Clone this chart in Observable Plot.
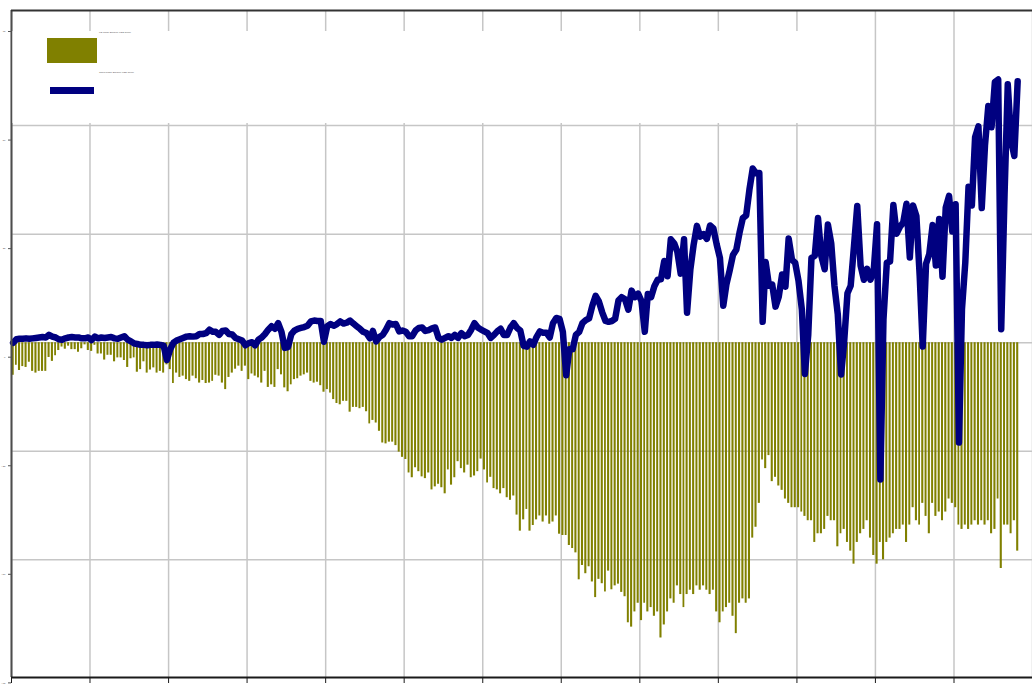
<!DOCTYPE html>
<html><head><meta charset="utf-8">
<script src="https://cdn.jsdelivr.net/npm/d3@7"></script>
<script src="https://cdn.jsdelivr.net/npm/@observablehq/plot@0.6"></script>
<style>
html,body{margin:0;padding:0;background:#fff;}
#wrap{position:relative;width:1032px;height:685px;overflow:hidden;font-family:"Liberation Sans",Arial,sans-serif;}
#wrap svg{display:block;}
#leg{position:absolute;left:0;top:0;}
</style></head><body><div id="wrap"></div>
<script>
// Monthly data, Jan 1990 .. Aug 2015 (USD billion)
const startYear = 1990;
const usTradeBalance = [
 -7.5,-5.2,-6.4,-5.5,-5.7,-4.5,-6.6,-7.0,-6.6,-6.6,-6.6,-3.4,
 -4.3,-3.0,-1.8,-1.0,-1.5,-0.8,-1.6,-1.6,-2.2,-1.4,-0.5,-1.8,
 -2.0,-0.6,-2.6,-2.6,-4.0,-2.9,-2.9,-4.4,-3.5,-3.5,-4.1,-5.7,
 -3.7,-3.5,-6.8,-6.2,-4.4,-7.0,-6.3,-5.8,-7.0,-6.6,-7.0,-5.1,
 -6.2,-9.4,-7.0,-8.0,-7.7,-8.5,-8.9,-7.7,-8.3,-9.3,-8.7,-9.4,
 -9.3,-8.9,-7.5,-7.7,-9.3,-10.8,-8.0,-7.0,-6.1,-5.4,-6.6,-5.4,
 -8.5,-7.2,-7.7,-8.1,-9.3,-6.6,-10.3,-9.7,-10.3,-6.2,-7.4,-10.4,
 -11.3,-9.7,-8.5,-8.3,-7.7,-7.4,-7.0,-8.9,-9.3,-9.1,-9.9,-11.4,
 -10.8,-11.6,-13.1,-14.0,-14.3,-13.5,-13.5,-16.0,-14.9,-14.9,-15.2,-14.9,
 -15.9,-18.7,-17.9,-18.5,-20.4,-23.1,-23.3,-22.9,-22.9,-23.7,-25.2,-26.4,
 -26.9,-30.0,-31.1,-28.8,-29.7,-30.9,-31.3,-30.0,-33.9,-33.2,-32.6,-33.4,
 -34.8,-29.3,-32.8,-31.1,-27.4,-29.0,-30.0,-28.2,-31.1,-30.7,-29.7,-26.8,
 -29.3,-32.3,-31.0,-33.6,-33.9,-34.8,-33.6,-35.7,-36.3,-35.3,-39.7,-43.4,
 -40.8,-38.4,-43.4,-42.1,-40.8,-39.9,-41.3,-39.9,-41.8,-41.3,-39.9,-44.1,
 -44.4,-44.4,-46.7,-47.4,-48.4,-54.6,-51.3,-53.2,-51.6,-55.1,-58.7,-54.5,
 -55.5,-57.4,-52.6,-56.9,-56.0,-55.6,-57.5,-58.5,-64.5,-65.5,-62.0,-60.0,
 -64.0,-60.0,-62.0,-61.0,-63.0,-62.0,-68.0,-65.0,-62.0,-59.0,-60.0,-56.0,
 -58,-61,-58,-57,-58,-56,-57,-56,-57,-58,-57,-62,
 -64.5,-62,-61,-60,-63,-67,-60,-59,-60,-59,-45,-42.5,
 -37,-27,-29,-26,-32,-31,-33,-34,-36,-37,-38,-38,
 -38,-39,-40,-41,-41,-46,-44,-44,-43,-40,-41,-41,
 -47,-44,-43,-46,-48,-51,-46,-44,-43,-41,-45,-49,
 -51,-46,-50,-46,-45,-44,-43,-43,-42,-46,-42,-38,
 -41,-42,-37,-40,-44,-37,-40,-39,-41,-39,-36,-37,
 -38,-42,-43,-42,-43,-42,-41,-42,-41,-42,-41,-44,
 -43,-36,-52,-42,-42,-44,-41,-48
];
const chinaTradeBalance = [
 0.0,0.8,0.9,0.9,1.0,0.9,1.0,1.1,1.2,1.3,1.2,1.8,
 1.4,1.2,0.8,0.7,1.0,1.2,1.3,1.2,1.2,1.0,1.0,1.2,
 0.6,1.4,1.0,1.2,1.1,1.2,1.3,1.0,0.9,1.2,1.5,0.7,
 0.3,-0.2,-0.3,-0.5,-0.5,-0.6,-0.5,-0.5,-0.4,-0.5,-0.7,-4.0,
 -1.5,0.0,0.5,0.8,1.1,1.4,1.5,1.4,1.5,2.0,2.0,2.2,
 3.0,2.5,2.5,1.8,2.7,2.8,2.0,1.9,1.1,0.8,0.5,-0.6,
 -0.1,0.1,-0.6,0.7,1.2,2.0,3.0,3.8,3.2,4.5,2.5,-1.2,
 -1.0,2.0,2.8,3.2,3.4,3.6,3.9,4.9,5.1,5.0,5.0,0.2,
 3.8,4.3,3.9,4.3,4.9,4.4,4.6,5.1,4.4,3.8,3.2,2.5,
 2.2,1.0,2.7,0.3,1.3,1.8,3.0,4.5,4.2,4.3,2.6,2.8,
 2.5,1.5,1.5,2.8,3.4,3.5,2.7,2.9,3.3,3.5,1.1,0.7,
 1.1,1.5,1.1,1.8,1.1,2.2,1.5,1.8,3.0,4.5,3.5,3.0,
 2.6,2.2,1.1,1.8,2.6,3.2,1.8,1.8,3.5,4.5,3.4,2.8,
 -0.7,-0.9,0.3,-0.5,1.3,2.6,2.3,2.3,1.2,4.5,5.7,5.5,
 2.5,-7.5,-1.5,-1.5,1.8,2.5,4.5,5.2,5.6,8.5,10.8,9.5,
 7.0,5.0,4.8,5.0,5.5,9.7,10.5,10.0,7.6,12.0,10.5,11.3,
 9.6,2.5,11.2,10.5,13.0,14.5,14.6,18.8,15.3,23.8,22.9,20.9,
 15.9,23.8,6.9,16.9,22.5,26.9,24.4,25.0,23.9,27.0,26.3,22.7,
 19.5,8.5,13.4,16.7,20.2,21.4,25.3,28.7,29.3,35.2,40.1,39.0,
 39.1,4.8,18.6,13.1,13.4,8.3,10.6,15.7,12.9,24.0,19.1,18.4,
 14.2,7.6,-7.2,1.7,19.5,20.0,28.7,20.0,16.9,27.2,22.9,13.1,
 6.5,-7.3,0.1,11.4,13.1,22.3,31.5,17.8,14.5,17.0,14.5,16.5,
 27.3,-31.5,5.4,18.4,18.7,31.7,25.1,26.7,27.7,32.0,19.6,31.6,
 29.2,15.3,-0.9,18.2,20.4,27.1,17.8,28.5,15.2,31.1,33.8,25.6,
 31.9,-23.0,7.7,18.5,35.9,31.6,47.3,49.8,31.0,45.4,54.5,49.6,
 60.0,60.6,3.1,34.1,59.5,46.5,43.0,60.2
];
const yTicks = [-75, -50, -25, 0, 25, 50, 75];
const yGridValues = [-50, -25, 0, 25, 50];
const xTickYears = [1990,1992,1994,1996,1998,2000,2002,2004,2006,2008,2010,2012,2014,2016];
const seriesNames = ["US Trade Balance USD billion", "China Trade Balance USD billion"];
const seriesColors = ["#808000", "#000080"];

const rows = usTradeBalance.map((v, i) => ({
  start: new Date(Date.UTC(startYear, i, 1)),
  end: new Date(Date.UTC(startYear, i + 1, 1)),
  mid: new Date(Date.UTC(startYear, i, 16)),
  us: v,
  china: chinaTradeBalance[i]
}));
const xTicks = xTickYears.map(y => new Date(Date.UTC(y, 0, 1)));
const xDomain = [xTicks[0], xTicks[xTicks.length - 1]];
const yDomain = [-77.1, 76.5];

const chart = Plot.plot({
  width: 1032, height: 685,
  marginLeft: 11, marginRight: 0, marginTop: 10, marginBottom: 8,
  x: {type: "utc", domain: xDomain},
  y: {domain: yDomain},
  style: {background: "#fff", fontFamily: "Liberation Sans, Arial, sans-serif", overflow: "visible"},
  marks: [
    Plot.gridX(xTicks, {stroke: "#c6c6c6", strokeOpacity: 1, strokeWidth: 1.5}),
    Plot.gridY(yGridValues, {stroke: "#c6c6c6", strokeOpacity: 1, strokeWidth: 1.5}),
    Plot.rect(rows, {x1: "start", x2: "end", y1: 0, y2: "us", fill: seriesColors[0], insetLeft: 0.62, insetRight: 0.62}),
    Plot.line(rows, {x: "mid", y: "china", stroke: seriesColors[1], strokeWidth: 6.5, strokeLinejoin: "round", strokeLinecap: "round"}),
    Plot.ruleX([xDomain[0]], {stroke: "#4d4d4d", strokeWidth: 2}),
    Plot.ruleY([yDomain[1]], {stroke: "#333", strokeWidth: 2}),
    Plot.ruleY([yDomain[0]], {stroke: "#1a1a1a", strokeWidth: 2}),
    Plot.axisY(yTicks, {tickSize: 3, tickPadding: 3, fontSize: 2.5, dy: 14.5, color: "#555", label: null}),
    Plot.axisX(xTicks, {tickSize: 6, tickFormat: () => "", color: "#1a1a1a", label: null})
  ]
});
const wrap = document.getElementById("wrap");
wrap.appendChild(chart);

// Legend overlay inside the plot area
const leg = d3.select(wrap).append("svg").attr("id", "leg").attr("width", 1032).attr("height", 685)
  .style("font-family", "Liberation Sans, Arial, sans-serif");
leg.append("rect").attr("x", 12.5).attr("y", 31).attr("width", 828).attr("height", 92).attr("fill", "#fff");
const swatches = [
  {x: 47, y: 38, w: 50, h: 25, tx: 99, ty: 32.6},
  {x: 50, y: 87, w: 44, h: 7, tx: 99, ty: 73.2}
];
swatches.forEach((s, i) => {
  leg.append("rect").attr("x", s.x).attr("y", s.y).attr("width", s.w).attr("height", s.h).attr("fill", seriesColors[i]);
  leg.append("text").attr("x", s.tx).attr("y", s.ty).attr("font-size", 2.4).attr("fill", "#555").text(seriesNames[i]);
});
</script>
</body></html>
